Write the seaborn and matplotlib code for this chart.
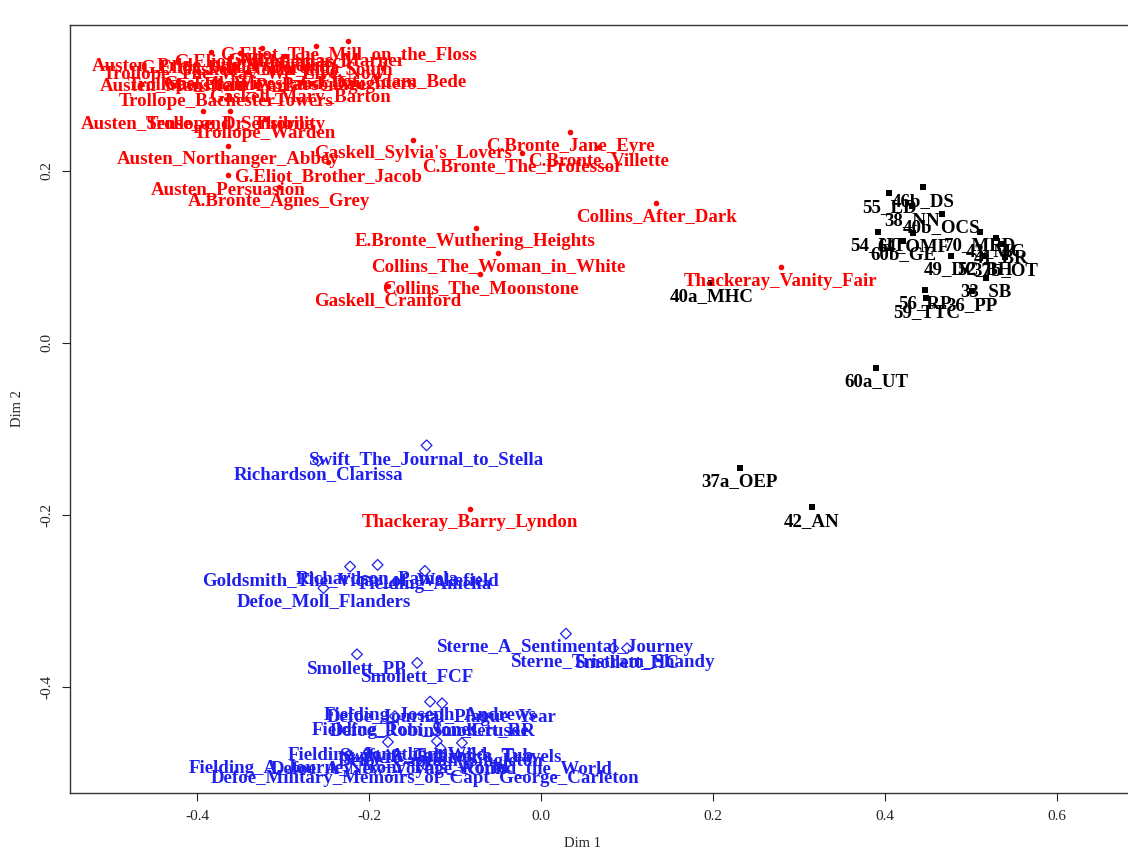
import matplotlib
matplotlib.use("Agg")
import matplotlib.pyplot as plt
import seaborn as sns
import pandas as pd

# ---------------- data (Dim 1, Dim 2) ----------------
victorian_labels = [
    "G.Eliot_The_Mill_on_the_Floss", "G.Eliot_Silas_Marner", "G.Eliot_Adam_Bede",
    "Gaskell_Mary_Barton", "Trollope_BachesterTowers", "Austen_Sense_and_Sensibility",
    "Trollope_Dr_Thorne", "Trollope_Warden", "Austen_Northanger_Abbey",
    "G.Eliot_Brother_Jacob", "Austen_Persuasion", "A.Bronte_Agnes_Grey",
    "Gaskell_Sylvia's_Lovers", "C.Bronte_Jane_Eyre", "C.Bronte_Villette",
    "C.Bronte_The_Professor", "Collins_After_Dark", "E.Bronte_Wuthering_Heights",
    "Collins_The_Woman_in_White", "Collins_The_Moonstone", "Gaskell_Cranford",
    "Thackeray_Vanity_Fair", "Thackeray_Barry_Lyndon",
    "Austen_Pride_and_Prejudice", "G.Eliot_Daniel_Deronda", "G.Eliot_Middlemarch",
    "Gaskell_North_and_South", "Trollope_The_Way_We_Live_Now",
    "Gaskell_Wives_and_Daughters", "Austen_Mansfield_Park", "Trollope_Framley_Parsonage",
]
victorian_dim1 = [
    -0.224, -0.262, -0.184, -0.280, -0.366, -0.393, -0.362, -0.321, -0.364,
    -0.248, -0.364, -0.305, -0.149, 0.034, 0.067, -0.022, 0.134, -0.076,
    -0.050, -0.071, -0.178, 0.279, -0.083,
    -0.384, -0.350, -0.324, -0.298, -0.346, -0.292, -0.399, -0.342,
]
victorian_dim2 = [
    0.351, 0.345, 0.320, 0.302, 0.297, 0.270, 0.270, 0.260, 0.229,
    0.210, 0.195, 0.181, 0.236, 0.245, 0.228, 0.221, 0.163, 0.134,
    0.105, 0.080, 0.066, 0.088, -0.193,
    0.338, 0.337, 0.343, 0.334, 0.328, 0.317, 0.316, 0.315,
]

dickens_labels = [
    "46b_DS", "55_LD", "38_NN", "40b_OCS", "54_HT", "64_OMF", "70_MED", "43_MC",
    "60b_GE", "41_BR", "49_DC", "52_BH", "37b_OT", "33_SB", "56_RP", "36_PP",
    "59_TTC", "40a_MHC", "60a_UT", "37a_OEP", "42_AN",
]
dickens_dim1 = [
    0.444, 0.405, 0.431, 0.466, 0.392, 0.433, 0.510, 0.529,
    0.421, 0.535, 0.477, 0.516, 0.540, 0.517, 0.447, 0.501,
    0.448, 0.198, 0.390, 0.231, 0.315,
]
dickens_dim2 = [
    0.181, 0.174, 0.159, 0.150, 0.129, 0.128, 0.129, 0.122,
    0.119, 0.115, 0.101, 0.101, 0.100, 0.076, 0.062, 0.060,
    0.052, 0.070, -0.029, -0.145, -0.191,
]

c18_labels = [
    "Swift_The_Journal_to_Stella", "Richardson_Clarissa",
    "Goldsmith_The_Vicar_of_Wakefield", "Richardson_Pamela", "Fielding_Amelia",
    "Defoe_Moll_Flanders", "Sterne_A_Sentimental_Journey", "Sterne_Tristram_Shandy",
    "Smollett_HC", "Smollett_PP", "Smollett_FCF", "Fielding_Joseph_Andrews",
    "Defoe_Journal_Plague_Year", "Fielding_Tom_Jones", "Defoe_Robinson_Crusoe",
    "Smollett_RR", "Fielding_Jonathan_Wild", "Swift_A_Tale_of_a_Tub",
    "Swift_Gulliver's_Travels", "Defoe_Captain_Singleton",
    "Fielding_A_Journey_from_This_World", "Defoe_A_New_Voyage_Round_the_World",
    "Defoe_Military_Memoirs_of_Capt_George_Carleton",
]
c18_dim1 = [
    -0.133, -0.259, -0.222, -0.190, -0.135, -0.253, 0.029, 0.084,
    0.100, -0.214, -0.144, -0.129, -0.115, -0.170, -0.129, -0.067,
    -0.178, -0.121, -0.092, -0.117, -0.223, -0.116, -0.135,
]
c18_dim2 = [
    -0.119, -0.137, -0.260, -0.258, -0.265, -0.285, -0.338, -0.355,
    -0.355, -0.362, -0.372, -0.417, -0.419, -0.434, -0.434, -0.435,
    -0.464, -0.463, -0.465, -0.471, -0.479, -0.480, -0.490,
]

RED = "#ff0000"
BLACK = "#000000"
BLUE = "#1f1fee"

# ---------------- figure ----------------
sns.set_theme(style="white")
plt.rcParams["font.family"] = ["Liberation Serif", "DejaVu Serif"]
plt.rcParams["axes.unicode_minus"] = False

W, H = 1128, 852
fig = plt.figure(figsize=(W / 100, H / 100), dpi=100)
left, right, top, bottom = 70, 1140, 25, 793
ax = fig.add_axes([left / W, (H - bottom) / H, (right - left) / W, (bottom - top) / H])

df_v = pd.DataFrame({"d1": victorian_dim1, "d2": victorian_dim2, "lab": victorian_labels})
df_d = pd.DataFrame({"d1": dickens_dim1, "d2": dickens_dim2, "lab": dickens_labels})
df_c = pd.DataFrame({"d1": c18_dim1, "d2": c18_dim2, "lab": c18_labels})

sns.scatterplot(data=df_v, x="d1", y="d2", ax=ax, color=RED, marker="o", s=16,
                linewidth=0, legend=False)
sns.scatterplot(data=df_d, x="d1", y="d2", ax=ax, color=BLACK, marker="s", s=20,
                linewidth=0, legend=False)
sns.scatterplot(data=df_c, x="d1", y="d2", ax=ax, color=BLUE, marker="D", s=30,
                linewidth=0.9, legend=False)
coll = ax.collections[-1]
coll.set_facecolor("none")
coll.set_edgecolor(BLUE)

for df, col in ((df_v, RED), (df_d, BLACK), (df_c, BLUE)):
    for _, r in df.iterrows():
        ax.annotate(r["lab"], (r["d1"], r["d2"]), xytext=(0, -10),
                    textcoords="offset points", ha="center", va="center",
                    color=col, fontsize=13.6, fontweight="bold",
                    family=["Liberation Serif", "DejaVu Serif"])

# limits from pixel calibration: x0 at 541 px, y0 at 343 px, 860 px per unit
ax.set_xlim((left - 541) / 860, (right - 541) / 860)
ax.set_ylim((343 - bottom) / 860, (343 - top) / 860)

ax.set_xticks([-0.4, -0.2, 0.0, 0.2, 0.4, 0.6])
ax.set_xticklabels(["-0.4", "-0.2", "0.0", "0.2", "0.4", "0.6"])
ax.set_yticks([-0.4, -0.2, 0.0, 0.2])
ax.set_yticklabels(["-0.4", "-0.2", "0.0", "0.2"], rotation=90, va="center")

ax.tick_params(direction="out", length=6, width=0.8, color="#222222",
               labelsize=11, pad=6, bottom=True, left=True)
for sp in ax.spines.values():
    sp.set_color("#333333")
    sp.set_linewidth(1.0)
    sp.set_visible(True)

ax.set_xlabel("Dim 1", fontsize=10.5)
ax.set_ylabel("Dim 2", fontsize=10.5)
ax.xaxis.set_label_coords((583 - left) / (right - left), -(837 - bottom) / (bottom - top))
ax.yaxis.set_label_coords(-(left - 24) / (right - left), 0.5)
ax.grid(False)

fig.savefig("out.png", dpi=100, facecolor="white")
